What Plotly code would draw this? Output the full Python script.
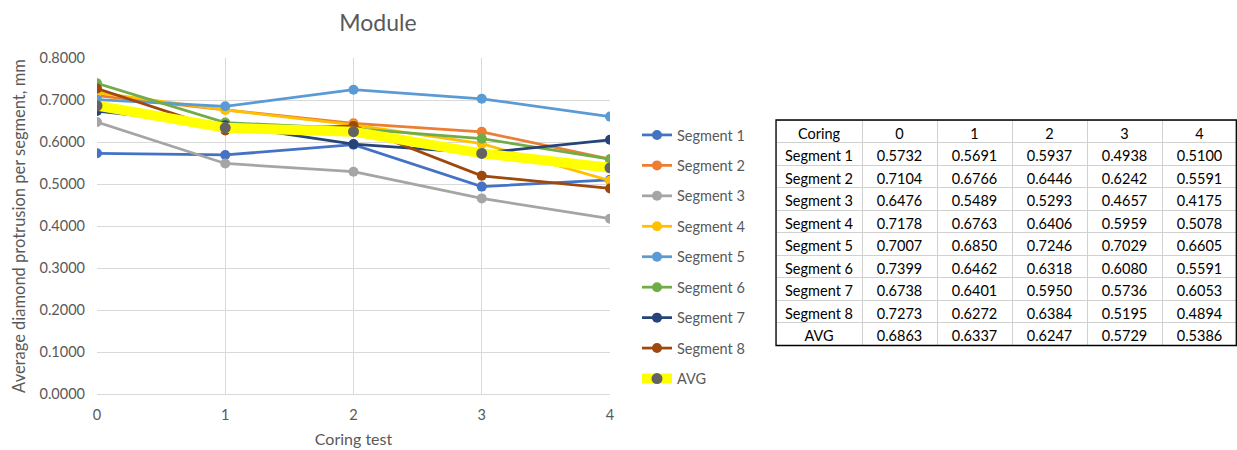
import plotly.graph_objects as go

coring = [0, 1, 2, 3, 4]
seg1 = [0.5732, 0.5691, 0.5937, 0.4938, 0.5100]
seg2 = [0.7104, 0.6766, 0.6446, 0.6242, 0.5591]
seg3 = [0.6476, 0.5489, 0.5293, 0.4657, 0.4175]
seg4 = [0.7178, 0.6763, 0.6406, 0.5959, 0.5078]
seg5 = [0.7007, 0.6850, 0.7246, 0.7029, 0.6605]
seg6 = [0.7399, 0.6462, 0.6318, 0.6080, 0.5591]
seg7 = [0.6738, 0.6401, 0.5950, 0.5736, 0.6053]
seg8 = [0.7273, 0.6272, 0.6384, 0.5195, 0.4894]
avg = [0.6863, 0.6337, 0.6247, 0.5729, 0.5386]

names = ["Segment 1", "Segment 2", "Segment 3", "Segment 4", "Segment 5",
         "Segment 6", "Segment 7", "Segment 8"]
series = [seg1, seg2, seg3, seg4, seg5, seg6, seg7, seg8]
colors = ["#4472C4", "#ED7D31", "#A5A5A5", "#FFC000", "#5B9BD5",
          "#70AD47", "#264478", "#9E480E"]

FONT = "Lato"
GREY = "#595959"

fig = go.Figure()
for n, s, c in zip(names, series, colors):
    fig.add_trace(go.Scatter(x=coring, y=s, name=n, mode="lines+markers",
                             line=dict(color=c, width=2.75),
                             marker=dict(color=c, size=10),
                             legendgroup=n))
fig.add_trace(go.Scatter(x=coring, y=avg, name="AVG", mode="lines+markers",
                         line=dict(color="#FFFF00", width=10),
                         marker=dict(color="#636363", size=11),
                         legendgroup="AVG"))

# table
row_labels = [t.replace(" ", "\u00a0") for t in names] + ["AVG"]
rows = series + [avg]
cols = [row_labels] + [[f"{r[j]:.4f}" for r in rows] for j in range(5)]
header = ["Coring"] + [str(c) for c in coring]

W, H = 1237, 450
ml, mr, mt, mb = 97, 0, 58, 450 - 394
pw = W - ml - mr
ph = H - mt - mb

def px(x):
    return (x - ml) / pw

def py(y):
    return (H - mb - y) / ph

fig.add_trace(go.Table(
    domain=dict(x=[px(776), px(1237)], y=[py(346), py(120)]),
    columnwidth=[86, 75, 75, 75, 75, 75],
    header=dict(values=header, height=22.5, align="center",
                fill_color="white", line=dict(color="#d0d0d0", width=1),
                font=dict(family=FONT, size=14.5, color="black")),
    cells=dict(values=cols, height=22.5, align="center",
               fill_color="white", line=dict(color="#d0d0d0", width=1),
               font=dict(family=FONT, size=14.5, color="black")),
))

fig.add_shape(type="rect", xref="paper", yref="paper",
              x0=px(776), x1=px(1236.3), y0=py(345.5), y1=py(120),
              line=dict(color="black", width=1.3))

fig.update_layout(
    width=W, height=H,
    margin=dict(l=ml, r=mr, t=mt, b=mb, autoexpand=False),
    paper_bgcolor="white", plot_bgcolor="white",
    title=dict(text="Module", x=px(378), xref="paper", xanchor="center",
               y=1 - 23 / H, yanchor="middle",
               font=dict(family=FONT, size=23, color=GREY)),
    font=dict(family=FONT, size=14.5, color=GREY),
    xaxis=dict(domain=[0, px(610)], range=[0, 4], tickvals=coring,
               showgrid=True, gridcolor="#d9d9d9", gridwidth=1.3,
               showline=True, linecolor="#d9d9d9", linewidth=1.3,
               zeroline=False, ticks="", ticklabelstandoff=7,
               tickfont=dict(size=14.5, color=GREY),
               title=dict(text="Coring test", font=dict(size=16, color=GREY), standoff=12)),
    yaxis=dict(range=[0, 0.8], dtick=0.1, tickformat=".4f",
               showgrid=True, gridcolor="#d9d9d9", gridwidth=1.3,
               zeroline=False, showline=False, ticks="", ticklabelstandoff=11,
               tickfont=dict(size=14.5, color=GREY),
               title=dict(text="Average diamond protrusion per segment, mm",
                          font=dict(size=16.5, color=GREY), standoff=9)),
    legend=dict(x=px(637), y=py(119), xanchor="left", yanchor="top",
                tracegroupgap=8.6, font=dict(family=FONT, size=14.5, color=GREY),
                bgcolor="rgba(0,0,0,0)"),
    showlegend=True,
)

fig.write_html("out.html",
               config={"displayModeBar": False},
               post_script="document.body.style.margin='0';"
                           "document.body.style.overflow='hidden';")
